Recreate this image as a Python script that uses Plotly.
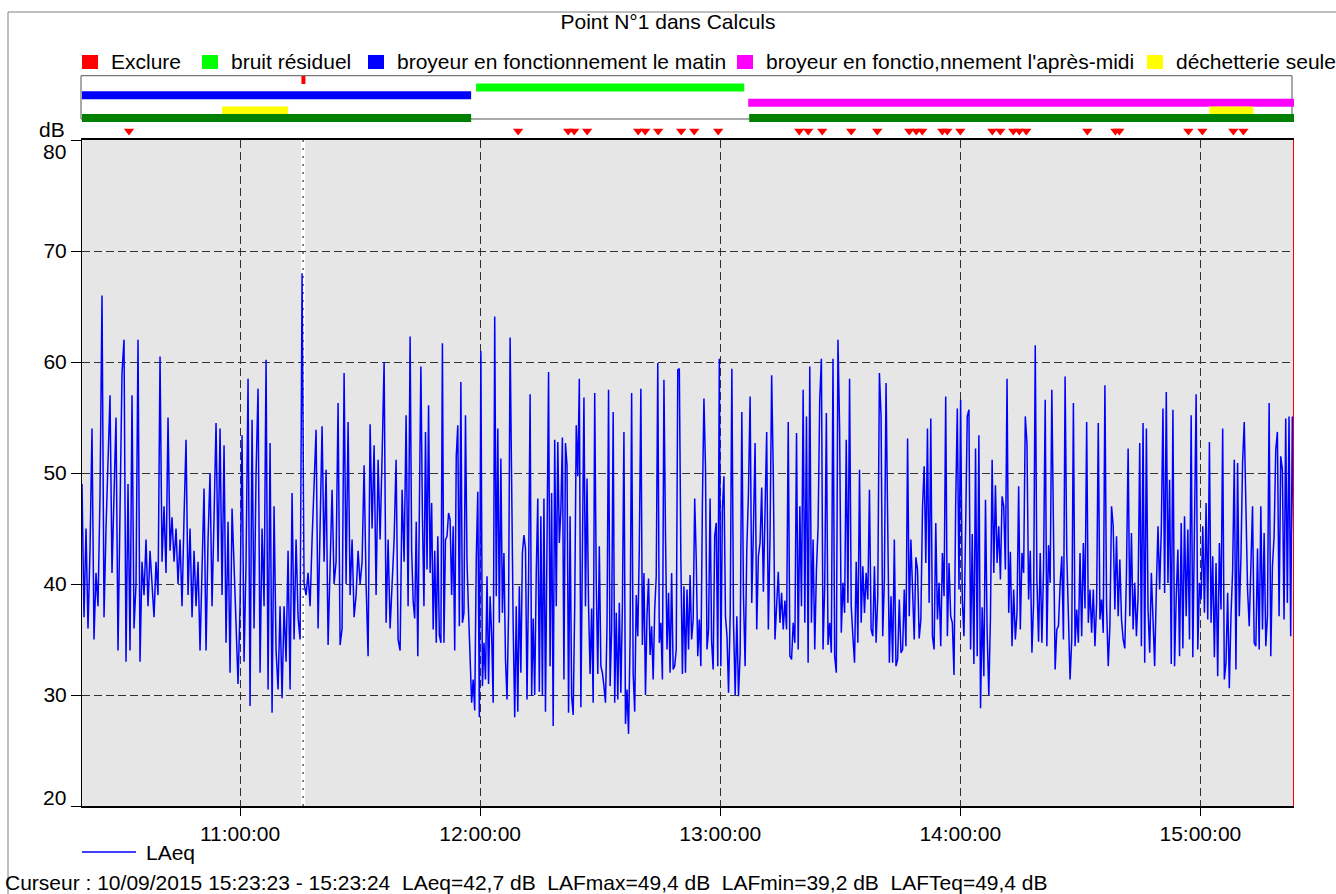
import pandas as pd
import plotly.graph_objects as go

DAY = "2015-09-10"
FONT = "Liberation Sans, Arial, sans-serif"

# ---- LAeq series, in four consecutive stretches ----
laeq_a = [49, 37, 45, 36, 43, 54, 35, 41, 38, 48,
          66, 37, 45, 51, 57, 41, 48, 55, 34, 47,
          59, 62, 33, 49, 34, 57, 36, 40, 62, 33,
          42, 39, 44, 38, 43, 40, 37, 42, 39, 60.5,
          42, 47, 41, 55, 43, 46, 42, 45, 40, 44,
          38, 46, 53, 39, 45, 37, 43, 38, 42, 34,
          41, 48.6, 34, 44, 50, 38, 46, 54.5, 42, 54,
          39, 52.5, 34.7, 45.6, 32, 46.8, 41.7, 36, 31, 38,
          53.4, 33, 42, 58.5, 29, 54.8, 36, 50, 57.6, 32,
          45, 38, 60.2, 30.5, 52.7, 28.4, 47, 34, 30.5, 38,
          29.7, 38, 33, 43, 30.5, 48.2, 35, 44, 37, 35,
          68, 40, 39, 41, 38, 44, 48.8, 53.9, 36, 44,
          54.2, 42, 50.3, 34.5, 43, 48.5, 40, 42, 56.3, 34.5,
          36, 59, 40, 54.6, 39, 44, 37, 39, 43, 40,
          42, 50.7, 40, 33.5, 54.4, 45, 52.5, 39, 51.2, 44,
          51.5, 60, 36.5, 44, 36, 40, 44, 51.2, 35, 34,
          48.5, 42, 55.2, 38]

laeq_b = [62.3, 43, 38.4, 36.9, 45.6, 33.5, 44.6, 59.6, 46.2, 38, 53.7, 41.3, 56.1, 41, 47.3,
          35.9, 43, 34.7, 44.3, 35.4, 34.7, 61.7, 34.7, 44, 44.3, 46.4, 45.8, 39, 45.2, 34,
          51.5, 54.3, 36.2, 58.2, 36.5, 37.4, 55.2, 41.9, 37.4, 32.3, 29.3, 31.4, 28.6, 42.3,
          48.3, 28, 61, 30.8, 34.7, 31.4, 40.7, 31, 38.9, 35.4, 29.3, 64.1, 38.9, 54, 36.5,
          51.3, 37.4, 42.8, 33.2, 29.6, 37.4, 62.2, 46.6, 36.2, 28, 38, 28.5, 39.8, 32, 42.8,
          44.4, 43.2, 29.6, 40.4, 57.1, 29.9, 36.9, 30, 41, 47.7, 30.3, 46.1, 29.9, 47.7, 28.5,
          41.6, 59.1, 32.6, 48.2, 27.2, 53, 38, 52.8, 43.7, 46.7, 53.2, 31.4, 52.7, 50.7, 28.4,
          46.1, 29.9, 28.2, 38, 54.3, 49.7, 58.5, 28.9, 45.2, 56.8, 38, 49.5, 38, 31.9, 37.8,
          29.3, 57.2, 40.1, 31.9, 43.4, 32.6, 32, 30.8, 29.3, 36.3, 57.5, 30.8, 35.9, 55.5,
          29.3, 37.4, 29.6, 38.3, 30.2, 38, 53.7, 27.4, 30.5, 26.5, 35, 57.2, 31.9, 28.5, 39,
          35.3, 43.3, 57.6, 34.5, 41, 30, 37.2, 40.5, 33.6, 36.2, 31.4, 37.7, 40.7, 59.9, 34.7,
          36.5, 31.4, 58.4, 44.6, 34.1, 39.2, 32, 41, 32.3, 32.6, 34.1, 59.3, 59.4, 42.2, 31.9,
          39.8, 32, 39.5, 34.1, 40.8, 35, 36.8, 47.7, 42.2, 33.5, 36.8, 32.6, 47.2, 56.7, 50.6,
          34.1, 35.9, 47.7, 34.8, 32.3, 44.3, 45.5, 32.6, 60.3, 32.6, 46.7, 49.7, 37.1, 35.3,
          30.2]

laeq_c = [37.4, 59.4, 36.5, 30, 37.1, 29.9, 33.8, 55.5, 38.9, 32.6, 43.1, 48.2, 56.9, 38.3,
          44.9, 52.7, 35.9, 42.5, 43.7, 48.7, 39.3, 46.1, 53.7, 35.9, 44, 58.8, 49.8, 35, 38.5,
          41.1, 36.5, 39.2, 35.9, 38.5, 35.9, 54.6, 33.5, 33.2, 36.5, 34.7, 53.6, 34.1, 47, 38,
          57.5, 36.5, 55.1, 32.9, 59.6, 36.5, 44, 34.1, 41.2, 45.1, 56.6, 60.3, 34.1, 39.8, 55.4,
          34.5, 36.5, 33.8, 60.3, 33.5, 32, 62, 54, 35.6, 40.1, 37.4, 53, 38.3, 58.5, 38, 35.3,
          32.9, 42, 34.7, 50.3, 36.5, 41.6, 37.4, 41, 38.6, 48.5, 35.9, 35.3, 41.6, 34.7, 38.9,
          59, 55.1, 35.3, 40.4, 58.1, 46.4, 32.9, 38.9, 32.9, 44, 32.6, 33.2, 38.6, 33.8, 34.1,
          39.5, 34.4, 53.1, 37.1, 44, 39.2, 35, 42.4, 41.3, 35.1, 36.8, 46.9, 50.6, 41.9, 54,
          38.3, 54.9, 35.3, 34.1, 45.5, 36.8, 40.1, 34.4, 42.8, 38.9, 56.9, 35.3, 41.9, 37.1,
          36.5, 31.8, 47, 55.8, 39.5, 56.6, 38.6, 35.3, 44.9, 55.1, 55.7, 34.1, 44.5, 32.8, 52.2,
          33.5, 53.4, 28.8, 37.9, 31.7, 47.6, 35.6, 30, 37.1, 51.2, 41, 48.9, 41.9, 45.2, 40.4,
          47.9, 47, 41.3, 58.5, 37.4, 42.9, 34.4, 39.5, 35, 37.4, 48.8, 35.9]

laeq_d = [42.8, 41, 55.1, 52.7, 38.6, 43, 33.8, 38.3, 61.5, 40.4, 34.8, 42.8, 34.7, 41.3, 56.6,
          34.4, 43.5, 40.1, 57.5, 42.8, 32.3, 35.9, 36.2, 40, 42.5, 35, 58.7, 42.8, 37.1, 31.4,
          35, 56.3, 34.4, 37.7, 34.7, 42.8, 35.3, 43.7, 37.8, 54.6, 36.5, 39.5, 35.6, 39.5, 34.4,
          38.3, 54.5, 36.8, 38.6, 35.6, 57.9, 38, 32.6, 36.2, 47, 45.2, 37.7, 44.3, 37.1, 42.2,
          36.8, 35, 34.2, 41, 52.2, 37.1, 44.6, 35.9, 40.1, 35.3, 38.9, 52.7, 34.4, 54.5, 32.9,
          54, 37.7, 33.8, 41, 35.6, 32.6, 39.5, 45.2, 39.5, 44.9, 55.8, 39.2, 57.3, 40.1, 49.4,
          32.8, 55.7, 32.6, 38.9, 43.1, 33.5, 45.5, 34.2, 46.1, 37.1, 44.9, 35, 55.2, 33.4, 48.5,
          57.1, 34.1, 40.1, 38.6, 45.2, 37.4, 47.3, 36.8, 52.8, 36.5, 42.5, 33.4, 41.9, 31.7,
          43.7, 37.7, 54, 31.4, 32.9, 39.2, 30.6, 37.1, 41.2, 51.2, 32.3, 50.9, 37.1, 42.3, 50.9,
          54.6, 47.9, 39.5, 36.2, 43.1, 47, 34.7, 34.4, 43.2, 34.1, 47, 35.9, 44.6, 34.4, 37.1,
          56.3, 33.5, 41.6, 44.3, 52.1, 53.7, 37.1, 51.5, 50.3, 36.8, 54.9, 38.3, 55.1, 35.3,
          55.1, 42.7]

segment_bounds = [("10:20:30", "11:42:00"), ("11:42:30", "13:02:05"),
                  ("13:02:30", "14:15:00"), ("14:15:25", "15:23:24")]

# ---- coded periods (strip above the chart) ----
band_names = ["Exclure", "bruit résiduel", "broyeur en fonctionnement le matin",
              "broyeur en fonctio,nnement l'après-midi", "déchetterie seule"]
band_colors = ["#ff0000", "#00ff00", "#0000ff", "#ff00ff", "#ffff00"]
band_periods = [
    [("11:15:20", "11:16:20")],
    [("11:59:00", "13:06:00")],
    [("10:20:30", "11:57:45")],
    [("13:07:00", "15:23:24")],
    [("10:55:30", "11:12:00"), ("15:02:15", "15:13:15")],
]
analysis_periods = [("10:20:30", "11:57:45"), ("13:07:15", "15:23:24")]
event_times = ["10:32:15", "12:09:30", "12:22:00", "12:23:30", "12:26:45", "12:39:30",
               "12:41:15", "12:44:30", "12:50:15", "12:53:30", "12:59:30", "13:19:45",
               "13:22:00", "13:25:30", "13:32:45", "13:39:15", "13:47:15", "13:49:00",
               "13:50:30", "13:55:30", "13:56:45", "14:00:00", "14:08:00", "14:10:00",
               "14:13:15", "14:14:45", "14:16:30", "14:31:45", "14:38:45", "14:39:45",
               "14:57:00", "15:00:30", "15:08:15", "15:10:45"]

hour_ticks = ["11:00:00", "12:00:00", "13:00:00", "14:00:00", "15:00:00"]
db_ticks = [20, 30, 40, 50, 60, 70, 80]
cursor_time = "11:15:45"
start_time, end_time = "10:20:30", "15:23:24"
cursor_text = ("Curseur : 10/09/2015 15:23:23 - 15:23:24  LAeq=42,7 dB  LAFmax=49,4 dB  "
               "LAFmin=39,2 dB  LAFTeq=49,4 dB")


def ts(t):
    return pd.Timestamp(f"{DAY} {t}")


times, values = [], []
for (s, e), vals in zip(segment_bounds, [laeq_a, laeq_b, laeq_c, laeq_d]):
    times.extend(pd.date_range(ts(s), ts(e), periods=len(vals)))
    values.extend(vals)

fig = go.Figure()

# strip rows (row index in the strip axis)
ROW_EXTRA = 5
ROW_EVENTS = 6.7
for i, (name, color, periods) in enumerate(zip(band_names, band_colors, band_periods)):
    fig.add_trace(go.Bar(
        orientation="h", name=name,
        base=[ts(a) for a, b in periods],
        x=[(ts(b) - ts(a)).total_seconds() * 1000 for a, b in periods],
        y=[i] * len(periods), width=1.05,
        marker=dict(color=color, line=dict(width=0)),
        xaxis="x2", yaxis="y2", showlegend=False, hoverinfo="skip"))

fig.add_trace(go.Bar(
    orientation="h", name="période",
    base=[ts(a) for a, b in analysis_periods],
    x=[(ts(b) - ts(a)).total_seconds() * 1000 for a, b in analysis_periods],
    y=[ROW_EXTRA] * len(analysis_periods), width=1.05,
    marker=dict(color="#008000", line=dict(width=0)),
    xaxis="x2", yaxis="y2", showlegend=False, hoverinfo="skip"))

fig.add_trace(go.Scatter(
    x=[ts(t) for t in event_times], y=[ROW_EVENTS] * len(event_times),
    mode="markers", marker=dict(symbol="triangle-down", size=9, color="#ff0000"),
    xaxis="x2", yaxis="y2", showlegend=False, hoverinfo="skip"))

fig.add_trace(go.Scatter(
    x=times, y=values, mode="lines", name="LAeq",
    line=dict(color="#0000ff", width=1.5), showlegend=False))

# pixel geometry helpers for layout
W, H = 1336, 894
L, R, T, B = 82, 42, 72, 88
PW, PH = W - L - R, H - T - B
MAIN_TOP = 140


def px_x(x):
    return (x - L) / PW


def px_y(y):
    return (H - B - y) / PH


grid = dict(showgrid=True, gridcolor="#333333", gridwidth=1, griddash="8px,4px")
# end labels (20 and 80) are drawn nudged inside, as in the original software
db_ticktext = ["" if v in (db_ticks[0], db_ticks[-1]) else str(v) for v in db_ticks]

fig.update_layout(
    width=W, height=H,
    margin=dict(l=L, r=R, t=T, b=B, autoexpand=False),
    paper_bgcolor="white", plot_bgcolor="white",
    font=dict(family=FONT, size=21, color="black"),
    barmode="overlay",
    showlegend=False,
    title=dict(text="Point N°1 dans Calculs", x=0.5, xref="container", xanchor="center",
               y=1 - 22 / H, yref="container", yanchor="middle",
               font=dict(size=21, color="black")),
    xaxis=dict(type="date", range=[ts(start_time), ts(end_time)], anchor="y",
               tickvals=[ts(t) for t in hour_ticks], tickformat="%H:%M:%S",
               ticks="outside", ticklen=8, tickcolor="black",
               showline=True, linecolor="black", linewidth=2, mirror=True,
               zeroline=False, tickfont=dict(size=21), **grid),
    yaxis=dict(range=[20, 80], domain=[0, px_y(MAIN_TOP)], anchor="x",
               tickvals=db_ticks, ticktext=db_ticktext,
               ticks="outside", ticklen=10, tickcolor="black",
               showline=True, linecolor="black", linewidth=1,
               zeroline=False, tickfont=dict(size=21), **grid),
    xaxis2=dict(type="date", matches="x", anchor="y2", visible=False),
    yaxis2=dict(domain=[px_y(138), 1], range=[7.63, -1.05], anchor="x2",
                visible=False, fixedrange=True),
)

shapes = [
    # grey plot background
    dict(type="rect", xref="x domain", yref="y domain", x0=0, x1=1, y0=0, y1=1,
         fillcolor="#e6e6e6", line=dict(width=0), layer="below"),
    # cursor at 11:15:45
    dict(type="line", xref="x", yref="y domain", x0=ts(cursor_time), x1=ts(cursor_time),
         y0=0, y1=1, line=dict(color="white", width=4), layer="below"),
    dict(type="line", xref="x", yref="y domain", x0=ts(cursor_time), x1=ts(cursor_time),
         y0=0, y1=1, line=dict(color="black", width=1, dash="2px,6px"), layer="below"),
    # end cursor
    dict(type="line", xref="x", yref="y domain", x0=ts(end_time), x1=ts(end_time),
         y0=0, y1=1, line=dict(color="#ff0000", width=2), layer="above"),
    # strip box
    dict(type="rect", xref="paper", yref="y2", x0=px_x(81), x1=px_x(1292),
         y0=-0.565, y1=5.13, line=dict(color="#555555", width=1), layer="below"),
    # outer frame
    dict(type="rect", xref="paper", yref="paper", x0=px_x(8), x1=px_x(1345),
         y0=px_y(905), y1=px_y(12), line=dict(color="#808080", width=1)),
]

# legend (top): colour squares + labels
legend_square_x = [82, 202, 368, 737, 1147]
for xs, name, color in zip(legend_square_x, band_names, band_colors):
    shapes.append(dict(type="rect", xref="paper", yref="paper",
                       x0=px_x(xs), x1=px_x(xs + 16), y0=px_y(69), y1=px_y(55),
                       fillcolor=color, line=dict(width=0)))
    fig.add_annotation(text=name, xref="paper", yref="paper", x=px_x(xs + 27), y=px_y(62),
                       xanchor="left", yanchor="middle", showarrow=False,
                       font=dict(size=21))

# legend (bottom): LAeq line sample
shapes.append(dict(type="line", xref="paper", yref="paper", x0=px_x(82), x1=px_x(136),
                   y0=px_y(852), y1=px_y(852), line=dict(color="#0000ff", width=1.5)))
fig.add_annotation(text="LAeq", xref="paper", yref="paper", x=px_x(144), y=px_y(852),
                   xanchor="left", yanchor="middle", showarrow=False, font=dict(size=21))

fig.update_layout(shapes=shapes)

# nudged end labels of the dB axis
fig.add_annotation(text=str(db_ticks[-1]), xref="paper", yref="paper", x=px_x(68),
                   y=px_y(151), xanchor="right", yanchor="middle", showarrow=False,
                   font=dict(size=21))
fig.add_annotation(text=str(db_ticks[0]), xref="paper", yref="paper", x=px_x(68),
                   y=px_y(797), xanchor="right", yanchor="middle", showarrow=False,
                   font=dict(size=21))

fig.add_annotation(text="dB", xref="paper", yref="paper", x=px_x(67), y=px_y(130),
                   xanchor="right", yanchor="middle", showarrow=False, font=dict(size=21))
fig.add_annotation(text=cursor_text, xref="paper", yref="paper", x=px_x(3), y=px_y(882),
                   xanchor="left", yanchor="middle", showarrow=False, font=dict(size=21))

fig.write_html("out.html", post_script="document.body.style.margin='0';",
               config={"displayModeBar": False})
